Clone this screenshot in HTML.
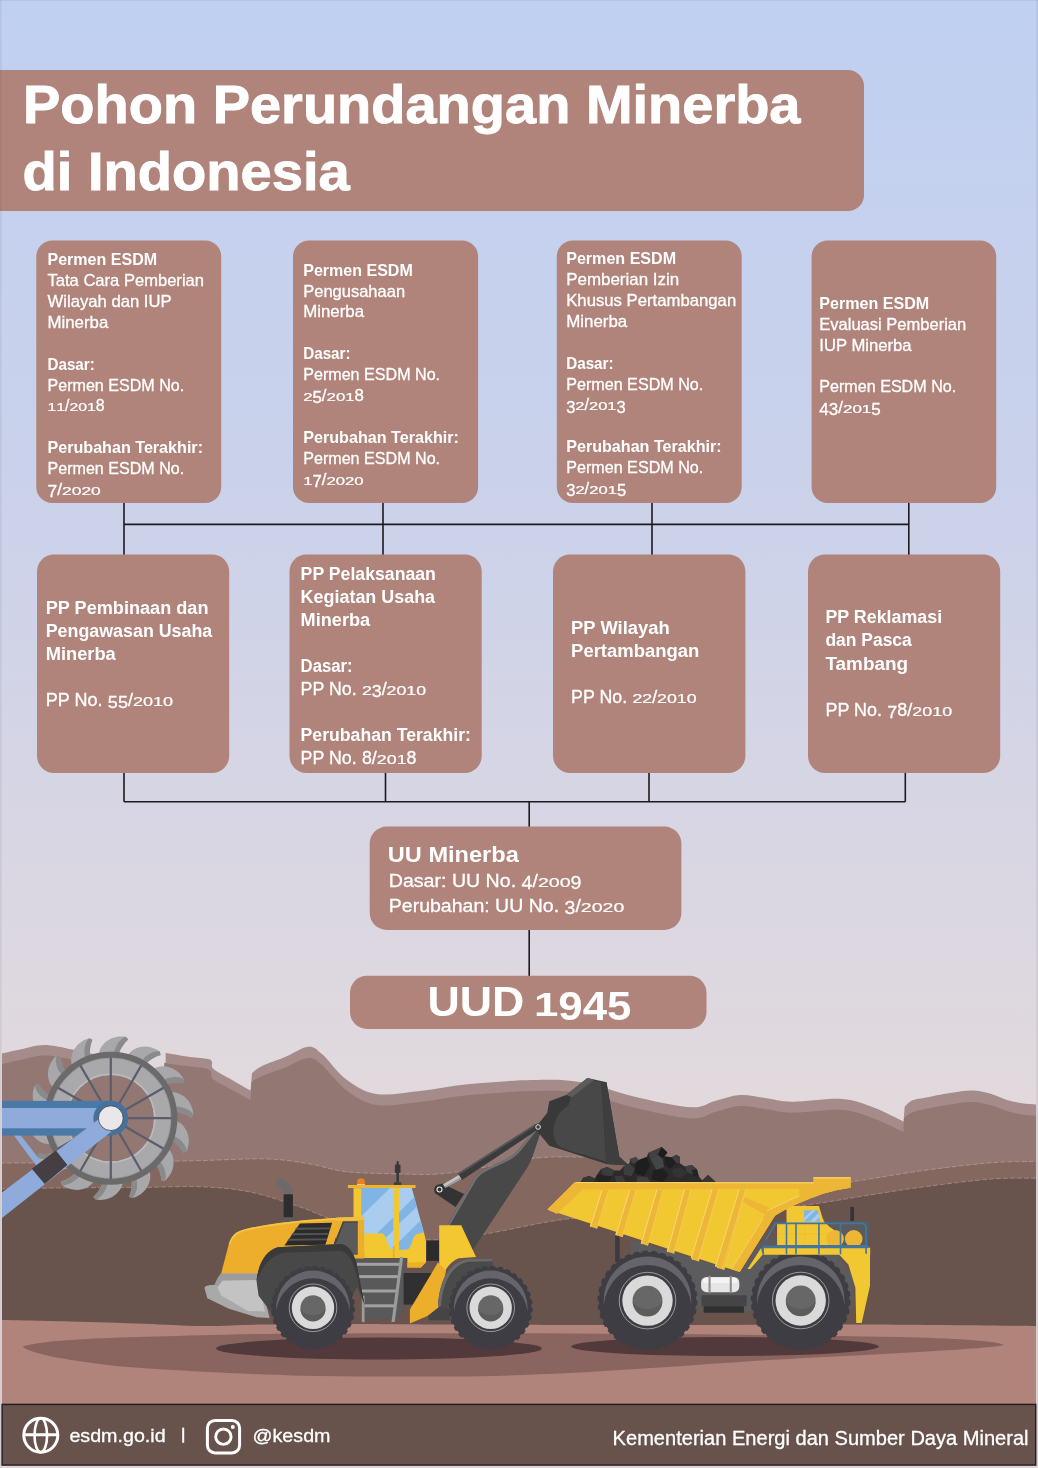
<!DOCTYPE html>
<html><head><meta charset="utf-8"><title>Pohon Perundangan Minerba di Indonesia</title>
<style>html,body{margin:0;padding:0;background:#c0d0f1;}body{width:1038px;height:1468px;overflow:hidden;font-family:"Liberation Sans",sans-serif;}svg text{font-family:"Liberation Sans",sans-serif;}</style>
</head><body>
<svg width="1038" height="1468" viewBox="0 0 1038 1468" font-family="Liberation Sans, sans-serif" style="display:block"><g><defs>
<linearGradient id="sky" x1="0" y1="0" x2="0" y2="1">
<stop offset="0" stop-color="#c0d0f1"/>
<stop offset="0.35" stop-color="#cbd2ea"/>
<stop offset="0.58" stop-color="#d9d6e3"/>
<stop offset="0.75" stop-color="#e1d9dc"/>
<stop offset="1" stop-color="#e1d9dc"/>
</linearGradient>
<filter id="gray" filterUnits="userSpaceOnUse" x="0" y="0" width="1038" height="1468"><feOffset dx="0" dy="0"/></filter>
</defs>
<rect x="0" y="0" width="1038" height="1468" fill="url(#sky)"/>
<clipPath id="sc"><rect x="2" y="1000" width="1034" height="410"/></clipPath><g id="scene" clip-path="url(#sc)">
<path d="M0 1300 L0.0 1054.0 C3.3 1053.2 12.7 1051.0 20.0 1049.5 C27.3 1048.0 35.3 1045.0 44.0 1045.0 C52.7 1045.0 61.0 1047.3 72.0 1049.5 C83.0 1051.7 98.7 1055.2 110.0 1058.0 C121.3 1060.8 130.8 1063.7 140.0 1066.0 C149.2 1068.3 161.2 1071.0 165.5 1072.0 L165.7 1053.1 C169.8 1053.8 182.9 1056.0 190.0 1057.0 C197.1 1058.0 204.3 1058.2 208.0 1059.0 C211.7 1059.8 211.1 1060.3 212.0 1062.0 C212.9 1063.7 210.2 1066.0 213.5 1069.0 C216.8 1072.0 225.8 1076.4 232.0 1080.0 C238.2 1083.6 247.4 1088.8 250.5 1090.5 L252.0 1073.0 C253.7 1071.8 256.5 1068.7 262.0 1066.0 C267.5 1063.3 277.3 1060.2 285.0 1057.0 C292.7 1053.8 301.8 1047.2 308.0 1046.7 C314.2 1046.2 315.7 1048.6 322.0 1054.0 C328.3 1059.4 337.0 1072.6 346.0 1079.3 C355.0 1086.0 363.7 1092.0 376.0 1094.0 C388.3 1096.0 404.3 1092.7 420.0 1091.0 C435.7 1089.3 451.3 1085.8 470.0 1084.0 C488.7 1082.2 513.7 1080.3 532.0 1080.0 C550.3 1079.7 562.0 1079.0 580.0 1082.0 C598.0 1085.0 621.3 1093.8 640.0 1098.0 C658.7 1102.2 679.5 1106.8 692.0 1107.3 C704.5 1107.8 707.0 1103.0 715.0 1101.0 C723.0 1099.0 731.7 1095.5 740.0 1095.0 C748.3 1094.5 756.3 1096.9 765.0 1098.0 C773.7 1099.1 779.2 1101.5 792.0 1101.7 C804.8 1101.9 828.2 1098.0 842.0 1099.0 C855.8 1100.0 864.8 1104.2 875.0 1108.0 C885.2 1111.8 898.8 1119.4 903.5 1121.7 L904.7 1106.7 C905.9 1105.7 908.6 1102.0 912.0 1100.5 C915.4 1099.0 918.7 1099.0 925.0 1097.7 C931.3 1096.5 942.2 1094.2 950.0 1093.0 C957.8 1091.8 965.3 1090.3 972.0 1090.4 C978.7 1090.5 984.2 1091.9 990.0 1093.5 C995.8 1095.1 1001.7 1098.4 1007.0 1100.0 C1012.3 1101.6 1016.8 1102.5 1022.0 1103.2 C1027.2 1104.0 1035.3 1104.3 1038.0 1104.5 L1038 1300 Z" fill="#a58b89"/>
<path d="M0 1300 L0.0 1064.5 C3.3 1063.8 12.7 1061.5 20.0 1060.0 C27.3 1058.5 35.3 1055.6 44.0 1055.5 C52.7 1055.4 61.0 1057.4 72.0 1059.5 C83.0 1061.6 98.7 1065.2 110.0 1068.0 C121.3 1070.8 131.0 1073.7 140.0 1076.0 C149.0 1078.3 160.0 1081.0 164.0 1082.0 L164.2 1063.0 C168.5 1063.6 183.0 1065.6 190.0 1066.5 C197.0 1067.4 202.5 1067.6 206.0 1068.5 C209.5 1069.4 209.8 1070.2 211.0 1072.0 C212.2 1073.8 209.5 1076.0 213.0 1079.0 C216.5 1082.0 225.8 1086.5 232.0 1090.0 C238.2 1093.5 247.4 1098.3 250.5 1100.0 L251.5 1082.0 C253.2 1081.0 256.4 1078.4 262.0 1076.0 C267.6 1073.6 277.3 1070.5 285.0 1067.5 C292.7 1064.5 301.8 1058.4 308.0 1058.0 C314.2 1057.6 315.7 1059.7 322.0 1065.0 C328.3 1070.3 337.0 1083.3 346.0 1090.0 C355.0 1096.7 363.7 1103.0 376.0 1105.0 C388.3 1107.0 404.3 1103.7 420.0 1102.0 C435.7 1100.3 451.3 1096.8 470.0 1095.0 C488.7 1093.2 513.7 1091.3 532.0 1091.0 C550.3 1090.7 562.0 1090.0 580.0 1093.0 C598.0 1096.0 621.3 1104.8 640.0 1109.0 C658.7 1113.2 679.5 1118.0 692.0 1118.5 C704.5 1119.0 707.0 1114.1 715.0 1112.0 C723.0 1109.9 731.7 1106.5 740.0 1106.0 C748.3 1105.5 756.3 1107.9 765.0 1109.0 C773.7 1110.1 779.2 1112.5 792.0 1112.7 C804.8 1112.9 828.2 1109.0 842.0 1110.0 C855.8 1111.0 864.8 1115.3 875.0 1119.0 C885.2 1122.7 898.8 1129.8 903.5 1132.0 L904.0 1118.0 C905.3 1117.1 908.5 1114.0 912.0 1112.5 C915.5 1111.0 918.7 1110.3 925.0 1109.0 C931.3 1107.7 942.2 1105.7 950.0 1104.5 C957.8 1103.3 965.3 1101.9 972.0 1102.0 C978.7 1102.1 984.2 1103.5 990.0 1105.0 C995.8 1106.5 1001.7 1109.4 1007.0 1111.0 C1012.3 1112.6 1016.8 1113.7 1022.0 1114.5 C1027.2 1115.3 1035.3 1115.8 1038.0 1116.0 L1038 1300 Z" fill="#937772"/>
<path d="M0 1400 L0.0 1163.0 C10.0 1163.0 36.7 1163.2 60.0 1163.0 C83.3 1162.8 116.7 1162.4 140.0 1162.0 C163.3 1161.6 178.8 1161.1 200.0 1160.6 C221.2 1160.1 248.7 1158.4 267.0 1159.0 C285.3 1159.6 296.8 1161.9 310.0 1164.0 C323.2 1166.1 331.0 1170.0 346.0 1171.7 C361.0 1173.4 384.5 1173.6 400.0 1174.0 C415.5 1174.4 425.7 1175.0 439.0 1174.0 C452.3 1173.0 464.5 1170.6 480.0 1168.0 C495.5 1165.4 515.5 1160.3 532.0 1158.5 C548.5 1156.7 564.3 1156.6 579.0 1157.0 C593.7 1157.4 603.2 1157.8 620.0 1161.0 C636.8 1164.2 660.0 1171.7 680.0 1176.0 C700.0 1180.3 720.0 1185.0 740.0 1187.0 C760.0 1189.0 781.3 1188.9 800.0 1188.0 C818.7 1187.1 832.0 1184.5 852.0 1181.7 C872.0 1178.9 896.7 1174.2 920.0 1171.0 C943.3 1167.8 972.3 1164.3 992.0 1162.7 C1011.7 1161.1 1030.3 1161.7 1038.0 1161.5 L1038 1400 Z" fill="#84675f"/>
<path d="M0.0 1163.0 C10.0 1163.0 36.7 1163.2 60.0 1163.0 C83.3 1162.8 116.7 1162.4 140.0 1162.0 C163.3 1161.6 178.8 1161.1 200.0 1160.6 C221.2 1160.1 248.7 1158.4 267.0 1159.0 C285.3 1159.6 296.8 1161.9 310.0 1164.0 C323.2 1166.1 331.0 1170.0 346.0 1171.7 C361.0 1173.4 384.5 1173.6 400.0 1174.0 C415.5 1174.4 425.7 1175.0 439.0 1174.0 C452.3 1173.0 464.5 1170.6 480.0 1168.0 C495.5 1165.4 515.5 1160.3 532.0 1158.5 C548.5 1156.7 564.3 1156.6 579.0 1157.0 C593.7 1157.4 603.2 1157.8 620.0 1161.0 C636.8 1164.2 660.0 1171.7 680.0 1176.0 C700.0 1180.3 720.0 1185.0 740.0 1187.0 C760.0 1189.0 781.3 1188.9 800.0 1188.0 C818.7 1187.1 832.0 1184.5 852.0 1181.7 C872.0 1178.9 896.7 1174.2 920.0 1171.0 C943.3 1167.8 972.3 1164.3 992.0 1162.7 C1011.7 1161.1 1030.3 1161.7 1038.0 1161.5" fill="none" stroke="#e9dcd8" stroke-width="0.75" stroke-opacity="0.42" stroke-dasharray="5 2"/>
<path d="M0 1400 L0.0 1189.0 C10.0 1188.8 36.7 1188.2 60.0 1188.0 C83.3 1187.8 116.7 1187.7 140.0 1187.5 C163.3 1187.3 181.7 1186.0 200.0 1186.7 C218.3 1187.5 233.3 1188.6 250.0 1192.0 C266.7 1195.4 286.2 1202.3 300.0 1207.0 C313.8 1211.7 319.7 1215.2 333.0 1220.0 C346.3 1224.8 363.8 1232.7 380.0 1236.0 C396.2 1239.3 412.7 1240.3 430.0 1240.0 C447.3 1239.7 464.1 1237.2 483.6 1234.2 C503.1 1231.2 531.1 1224.7 547.0 1222.0 C562.9 1219.3 563.5 1219.3 579.0 1218.0 C594.5 1216.7 619.8 1214.7 640.0 1214.0 C660.2 1213.3 680.0 1214.5 700.0 1214.0 C720.0 1213.5 740.2 1212.8 760.0 1211.0 C779.8 1209.2 800.4 1206.0 818.7 1203.3 C837.0 1200.6 852.3 1197.8 870.0 1195.0 C887.7 1192.2 904.7 1189.4 925.0 1186.7 C945.3 1184.0 973.2 1180.4 992.0 1179.0 C1010.8 1177.6 1030.3 1178.4 1038.0 1178.3 L1038 1400 Z" fill="#69534d"/>
<path d="M0.0 1189.0 C10.0 1188.8 36.7 1188.2 60.0 1188.0 C83.3 1187.8 116.7 1187.7 140.0 1187.5 C163.3 1187.3 181.7 1186.0 200.0 1186.7 C218.3 1187.5 233.3 1188.6 250.0 1192.0 C266.7 1195.4 286.2 1202.3 300.0 1207.0 C313.8 1211.7 319.7 1215.2 333.0 1220.0 C346.3 1224.8 363.8 1232.7 380.0 1236.0 C396.2 1239.3 412.7 1240.3 430.0 1240.0 C447.3 1239.7 464.1 1237.2 483.6 1234.2 C503.1 1231.2 531.1 1224.7 547.0 1222.0 C562.9 1219.3 563.5 1219.3 579.0 1218.0 C594.5 1216.7 619.8 1214.7 640.0 1214.0 C660.2 1213.3 680.0 1214.5 700.0 1214.0 C720.0 1213.5 740.2 1212.8 760.0 1211.0 C779.8 1209.2 800.4 1206.0 818.7 1203.3 C837.0 1200.6 852.3 1197.8 870.0 1195.0 C887.7 1192.2 904.7 1189.4 925.0 1186.7 C945.3 1184.0 973.2 1180.4 992.0 1179.0 C1010.8 1177.6 1030.3 1178.4 1038.0 1178.3" fill="none" stroke="#e9dcd8" stroke-width="0.75" stroke-opacity="0.42" stroke-dasharray="5 2"/>
<path d="M0 1410 L0.0 1320.0 C11.7 1320.2 46.0 1320.9 70.0 1321.5 C94.0 1322.1 122.0 1323.0 144.0 1323.7 C166.0 1324.5 182.7 1325.8 202.0 1326.0 C221.3 1326.2 238.7 1324.9 260.0 1324.6 C281.3 1324.3 306.7 1324.1 330.0 1324.0 C353.3 1323.9 361.7 1324.0 400.0 1324.2 C438.3 1324.4 510.0 1324.9 560.0 1325.0 C610.0 1325.1 648.5 1325.1 700.0 1325.0 C751.5 1324.9 812.7 1324.3 869.0 1324.5 C925.3 1324.7 1009.8 1325.8 1038.0 1326.0 L1038 1410 Z" fill="#b0847a"/>
<path d="M23 1346.2 C40 1342 60 1340.5 87 1339 C130 1337 173 1336 260 1334 C400 1332.5 700 1333 919 1337.5 C970 1339 1000 1342 1004 1345 C990 1349 880 1354 769 1360 C650 1368 560 1376 450 1376.5 C400 1376.8 350 1376.5 300 1375.7 C260 1374.5 230 1373 202 1371.7 C170 1370 140 1368 115.6 1366 C90 1363 70 1360 58 1357.8 C35 1353 23 1349 23 1346.2Z" fill="#8a655f"/>
<ellipse cx="379" cy="1348.5" rx="163" ry="11" fill="#52393c"/>
<ellipse cx="725" cy="1346.5" rx="154" ry="9.5" fill="#52393c"/>
<g id="wheelex">
<path d="M13.5 1135 L20.5 1135 L41.5 1162 L36.5 1166 Z" fill="#8fabdc"/>
<path d="M98.9 1053.8 C99.9 1045.0 110.1 1034.2 125.9 1036.8 L128.2 1039.5 C124.5 1042.9 120.8 1047.9 119.0 1053.2 Z" fill="#a8a8ab"/>
<path d="M114.1 1052.8 C114.9 1047.3 119.1 1039.1 125.9 1036.8 L128.2 1039.5 C124.5 1042.9 120.8 1047.9 119.0 1053.2 Z" fill="#8a8a8d"/>
<path d="M128.0 1055.0 C132.7 1047.5 146.6 1042.2 159.7 1051.4 L160.7 1054.9 C155.8 1056.3 150.3 1059.2 146.4 1063.2 Z" fill="#a8a8ab"/>
<path d="M142.2 1060.7 C145.2 1056.1 152.6 1050.6 159.7 1051.4 L160.7 1054.9 C155.8 1056.3 150.3 1059.2 146.4 1063.2 Z" fill="#8a8a8d"/>
<path d="M153.7 1068.7 C161.2 1064.0 176.0 1065.3 183.9 1079.2 L183.2 1082.8 C178.2 1082.0 172.0 1082.2 166.7 1084.1 Z" fill="#a8a8ab"/>
<path d="M164.0 1080.0 C168.8 1077.2 177.8 1075.4 183.9 1079.2 L183.2 1082.8 C178.2 1082.0 172.0 1082.2 166.7 1084.1 Z" fill="#8a8a8d"/>
<path d="M170.9 1092.2 C179.7 1091.3 192.5 1098.8 193.5 1114.8 L191.4 1117.7 C187.2 1114.8 181.6 1112.3 176.0 1111.7 Z" fill="#a8a8ab"/>
<path d="M175.3 1106.9 C180.8 1106.4 189.7 1108.7 193.5 1114.8 L191.4 1117.7 C187.2 1114.8 181.6 1112.3 176.0 1111.7 Z" fill="#8a8a8d"/>
<path d="M176.2 1120.9 C184.6 1123.8 192.9 1136.2 186.8 1151.0 L183.6 1152.7 C181.1 1148.3 177.1 1143.6 172.3 1140.7 Z" fill="#a8a8ab"/>
<path d="M173.8 1136.0 C179.0 1138.0 186.0 1143.9 186.8 1151.0 L183.6 1152.7 C181.1 1148.3 177.1 1143.6 172.3 1140.7 Z" fill="#8a8a8d"/>
<path d="M168.6 1149.0 C174.8 1155.3 176.9 1170.0 165.0 1180.8 L161.4 1180.9 C161.1 1175.8 159.5 1169.8 156.5 1165.1 Z" fill="#a8a8ab"/>
<path d="M159.9 1161.6 C163.7 1165.6 167.4 1174.0 165.0 1180.8 L161.4 1180.9 C161.1 1175.8 159.5 1169.8 156.5 1165.1 Z" fill="#8a8a8d"/>
<path d="M149.5 1171.0 C152.4 1179.4 147.9 1193.6 132.5 1198.1 L129.2 1196.7 C131.1 1191.9 132.3 1185.9 131.6 1180.3 Z" fill="#a8a8ab"/>
<path d="M136.2 1178.6 C137.9 1183.8 137.6 1193.0 132.5 1198.1 L129.2 1196.7 C131.1 1191.9 132.3 1185.9 131.6 1180.3 Z" fill="#8a8a8d"/>
<path d="M122.7 1182.6 C121.7 1191.4 111.5 1202.2 95.7 1199.6 L93.4 1196.9 C97.1 1193.5 100.8 1188.5 102.6 1183.2 Z" fill="#a8a8ab"/>
<path d="M107.5 1183.6 C106.7 1189.1 102.5 1197.3 95.7 1199.6 L93.4 1196.9 C97.1 1193.5 100.8 1188.5 102.6 1183.2 Z" fill="#8a8a8d"/>
<path d="M93.6 1181.4 C88.9 1188.9 75.0 1194.2 61.9 1185.0 L60.9 1181.5 C65.8 1180.1 71.3 1177.2 75.2 1173.2 Z" fill="#a8a8ab"/>
<path d="M79.4 1175.7 C76.4 1180.3 69.0 1185.8 61.9 1185.0 L60.9 1181.5 C65.8 1180.1 71.3 1177.2 75.2 1173.2 Z" fill="#8a8a8d"/>
<path d="M67.9 1167.7 C60.4 1172.4 45.6 1171.1 37.7 1157.2 L38.4 1153.6 C43.4 1154.4 49.6 1154.2 54.9 1152.3 Z" fill="#a8a8ab"/>
<path d="M57.6 1156.4 C52.8 1159.2 43.8 1161.0 37.7 1157.2 L38.4 1153.6 C43.4 1154.4 49.6 1154.2 54.9 1152.3 Z" fill="#8a8a8d"/>
<path d="M50.7 1144.2 C41.9 1145.1 29.1 1137.6 28.1 1121.6 L30.2 1118.7 C34.4 1121.6 40.0 1124.1 45.6 1124.7 Z" fill="#a8a8ab"/>
<path d="M46.3 1129.5 C40.8 1130.0 31.9 1127.7 28.1 1121.6 L30.2 1118.7 C34.4 1121.6 40.0 1124.1 45.6 1124.7 Z" fill="#8a8a8d"/>
<path d="M45.4 1115.5 C37.0 1112.6 28.7 1100.2 34.8 1085.4 L38.0 1083.7 C40.5 1088.1 44.5 1092.8 49.3 1095.7 Z" fill="#a8a8ab"/>
<path d="M47.8 1100.4 C42.6 1098.4 35.6 1092.5 34.8 1085.4 L38.0 1083.7 C40.5 1088.1 44.5 1092.8 49.3 1095.7 Z" fill="#8a8a8d"/>
<path d="M53.0 1087.4 C46.8 1081.1 44.7 1066.4 56.6 1055.6 L60.2 1055.5 C60.5 1060.6 62.1 1066.6 65.1 1071.3 Z" fill="#a8a8ab"/>
<path d="M61.7 1074.8 C57.9 1070.8 54.2 1062.4 56.6 1055.6 L60.2 1055.5 C60.5 1060.6 62.1 1066.6 65.1 1071.3 Z" fill="#8a8a8d"/>
<path d="M72.1 1065.4 C69.2 1057.0 73.7 1042.8 89.1 1038.3 L92.4 1039.7 C90.5 1044.5 89.3 1050.5 90.0 1056.1 Z" fill="#a8a8ab"/>
<path d="M85.4 1057.8 C83.7 1052.6 84.0 1043.4 89.1 1038.3 L92.4 1039.7 C90.5 1044.5 89.3 1050.5 90.0 1056.1 Z" fill="#8a8a8d"/>
<circle cx="110.8" cy="1118.2" r="52" fill="none" stroke="#a9a9ac" stroke-width="17.6"/>
<circle cx="110.8" cy="1118.2" r="44" fill="none" stroke="#bbbbbe" stroke-width="1.5"/>
<circle cx="110.8" cy="1118.2" r="60" fill="none" stroke="#9b9b9e" stroke-width="1.2"/>
<line x1="126.8" y1="1118.2" x2="171.8" y2="1118.2" stroke="#5b5d6b" stroke-width="2.2"/>
<line x1="124.7" y1="1126.2" x2="163.6" y2="1148.7" stroke="#5b5d6b" stroke-width="2.2"/>
<line x1="118.8" y1="1132.1" x2="141.3" y2="1171.0" stroke="#5b5d6b" stroke-width="2.2"/>
<line x1="110.8" y1="1134.2" x2="110.8" y2="1179.2" stroke="#5b5d6b" stroke-width="2.2"/>
<line x1="102.8" y1="1132.1" x2="80.3" y2="1171.0" stroke="#5b5d6b" stroke-width="2.2"/>
<line x1="96.9" y1="1126.2" x2="58.0" y2="1148.7" stroke="#5b5d6b" stroke-width="2.2"/>
<line x1="94.8" y1="1118.2" x2="49.8" y2="1118.2" stroke="#5b5d6b" stroke-width="2.2"/>
<line x1="96.9" y1="1110.2" x2="58.0" y2="1087.7" stroke="#5b5d6b" stroke-width="2.2"/>
<line x1="102.8" y1="1104.3" x2="80.3" y2="1065.4" stroke="#5b5d6b" stroke-width="2.2"/>
<line x1="110.8" y1="1102.2" x2="110.8" y2="1057.2" stroke="#5b5d6b" stroke-width="2.2"/>
<line x1="118.8" y1="1104.3" x2="141.3" y2="1065.4" stroke="#5b5d6b" stroke-width="2.2"/>
<line x1="124.7" y1="1110.2" x2="163.6" y2="1087.7" stroke="#5b5d6b" stroke-width="2.2"/>
<circle cx="110.8" cy="1118.2" r="63.5" fill="none" stroke="#6a6a6b" stroke-width="6"/>
<rect x="0" y="1100.9" width="110.8" height="34.7" fill="#4a79a7"/>
<rect x="0" y="1108" width="97" height="20.3" fill="#8fabdc"/>
<circle cx="110.8" cy="1118.2" r="17.4" fill="#44719e"/>
<path d="M99.5 1118.6 L0 1194 L0 1219.5 L111.5 1131.5 Z" fill="#8fabdc"/>
<path d="M31.8 1168.7 L55.9 1150.4 L67.4 1164.9 L44.7 1184.1 Z" fill="#453e42"/>
<circle cx="110.8" cy="1118.2" r="12.4" fill="#e9e7e9" stroke="#2c2c34" stroke-width="0.7"/>
</g>
<g id="loader">
<path d="M435.3 1186.7 L442.0 1183.4 L464.1 1194.0 L455.6 1207.1 L434.8 1193.1 Z" fill="#333335"/>
<path d="M536.2 1127.4 L520.0 1148.0 Q513.7 1155.8 504.8 1160.0 L486.1 1168.5 Q477.7 1172.8 473.8 1179.1 L446.5 1226.4 L473.0 1249.7 L527.0 1168.1 Q530.6 1162.2 532.8 1155.8 L540.4 1133.1 Z" fill="#484848"/>
<path d="M536.2 1127.4 L520.0 1148.0 Q513.7 1155.8 504.8 1160.0 L486.1 1168.5 Q477.7 1172.8 473.8 1179.1 L446.5 1226.4 L449.0 1226.4 L476.0 1180.0 Q479.3 1174.5 487.4 1170.4 L506.1 1161.7 Q515.4 1157.5 521.9 1149.2 L538.1 1128.7 Z" fill="#727274"/>
<path d="M457.7 1173.6 L535.1 1124.2 L538.7 1129.1 L462.0 1180.0 Z" fill="#3b3b3d"/>
<path d="M457.7 1173.6 L535.1 1124.2 L535.9 1125.5 L458.6 1175.1 Z" fill="#58585a"/>
<path d="M442.9 1184.6 L458.8 1175.1 L461.3 1179.1 L445.4 1187.8 Z" fill="#c4c4c6"/>
<path d="M444.2 1186.7 L460.3 1177.2 L461.3 1179.1 L445.4 1187.8 Z" fill="#9a9a9c"/>
<path d="M587.4 1078.0 L606.5 1082.3 L619.2 1156.4 L628.8 1165.6 L606.5 1163.9 L549.3 1145.8 L538.7 1133.1 L535.5 1127.4 L547.2 1113.0 L549.3 1101.3 L566.2 1095.0 Z" fill="#393939"/>
<path d="M570.9 1096.5 L589.6 1079.5 L601.4 1082.0 L606.1 1161.7 C581.1 1153.3 559.9 1149.0 557.8 1144.8 C549.3 1132.1 553.5 1115.1 568.4 1105.6 Z" fill="#484848"/>
<path d="M601.4 1082.0 L606.5 1082.3 L619.2 1156.4 L628.8 1165.6 L606.5 1163.9 Z" fill="#3e3e3e"/>
<path d="M566.2 1095.0 L587.4 1078.0 L594.2 1079.7 L571.8 1097.3 Z" fill="#5c5c5c"/>
<circle cx="538.1" cy="1127.0" r="3.6" fill="#3a3a3a"/>
<circle cx="538.1" cy="1127.0" r="2.3" fill="none" stroke="#e6e6e6" stroke-width="1"/>
<circle cx="439.5" cy="1189.5" r="5.3" fill="#333335"/>
<circle cx="439.5" cy="1189.5" r="2.5" fill="none" stroke="#e6e6e6" stroke-width="1.1"/>
<path d="M276.6 1178.7 C286.1 1178.7 292.9 1185.4 292.9 1195.0 L283.6 1195.0 C283.6 1189.7 280.8 1186.5 276.6 1186.5 Z" fill="#6b6b6b"/>
<rect x="283.6" y="1194.3" width="9.3" height="23.3" fill="#2d2d2d" rx="0"/>
<path d="M282.3 1217.2 L293.8 1217.2 L295.0 1221.9 L280.8 1221.9 Z" fill="#5a5a5a"/>
<path d="M220.9 1274.5 L228.9 1243.7 C232.1 1234.2 236.3 1231.6 245.9 1228.9 C279.8 1221.5 322.2 1218.3 363.9 1216.6 L363.9 1259.6 L258.6 1274.5 Z" fill="#ecae2b"/>
<path d="M228.9 1243.7 C232.1 1234.2 236.3 1231.6 245.9 1228.9 C279.8 1221.5 322.2 1218.3 363.9 1216.6 L363.9 1218.3 C322.2 1220.0 279.8 1223.2 246.9 1230.6 C237.4 1233.3 233.2 1235.9 230.2 1244.4 Z" fill="#f4c545"/>
<path d="M299.9 1223.6 L332.1 1222.7 L325.4 1244.8 L284.4 1245.6 Z" fill="#2b2b2b"/>
<path d="M296.1 1227.8 L330.7 1227.4 L330.2 1229.3 L295.0 1229.7 Z" fill="#555557"/>
<path d="M292.3 1233.3 L329.0 1232.9 L328.5 1234.8 L291.2 1235.2 Z" fill="#555557"/>
<path d="M288.5 1238.8 L327.3 1238.4 L326.8 1240.3 L287.4 1240.8 Z" fill="#555557"/>
<path d="M341.2 1221.9 L357.8 1221.3 L357.8 1254.7 L352.3 1254.7 L344.4 1245.2 L333.8 1243.9 Z" fill="#5b5b5b"/>
<path d="M333.8 1243.9 L341.2 1221.9 L343.4 1221.9 L336.6 1243.9 Z" fill="#3a3a3a"/>
<path d="M361.2 1188.1 L411.8 1188.1 L424.0 1233.1 L415.1 1251.9 L361.2 1251.9 Z" fill="#a8cdee"/>
<path d="M361.2 1188.1 L390.1 1188.1 L361.2 1216.2 Z" fill="#80b4e4"/>
<path d="M393.5 1217.2 L393.5 1230.2 L385.3 1237.9 L382.4 1233.6 L376.6 1233.6 Z" fill="#80b4e4"/>
<path d="M399.0 1212.4 L414.2 1197.0 L416.8 1207.1 L399.0 1223.5 Z" fill="#80b4e4"/>
<path d="M399.0 1241.8 L420.0 1221.1 L424.0 1233.1 L415.1 1251.9 L399.0 1251.9 Z" fill="#80b4e4"/>
<path d="M347.9 1184.9 L415.6 1184.9 L415.6 1188.1 L347.9 1188.1 Z" fill="#edb52e"/>
<path d="M353.5 1188.1 L361.2 1188.1 L361.2 1218.2 L353.5 1218.2 Z" fill="#f2c732"/>
<path d="M393.5 1188.1 L399.0 1188.1 L399.0 1250.9 L393.5 1250.9 Z" fill="#f2c732"/>
<path d="M364.1 1233.6 L382.4 1233.6 C385.3 1234.5 386.2 1239.4 388.2 1244.2 C389.6 1248.0 391.1 1249.5 393.5 1250.0 L399.0 1250.0 L406.5 1249.6 C409.8 1249.0 410.8 1246.1 412.3 1241.3 C413.7 1236.5 415.1 1234.5 418.0 1233.8 L424.0 1232.6 L426.0 1241.3 L426.0 1262.3 L420.9 1267.5 L407.4 1267.5 L407.4 1257.9 L364.1 1257.9 Z" fill="#f2c732"/>
<path d="M407.4 1262.7 L426.0 1262.0 L420.9 1267.5 L407.4 1267.5 Z" fill="#ecae2b"/>
<path d="M392.8 1246.1 L394.7 1246.1 L394.7 1257.9 L392.8 1257.9 Z" fill="#ecae2b"/>
<path d="M336.1 1217.7 L364.1 1217.0 L364.1 1257.9 L336.1 1257.9 Z" fill="#ecae2b"/>
<path d="M336.1 1217.7 L364.1 1217.0 L364.1 1220.1 L336.1 1220.8 Z" fill="#f2c040"/>
<path d="M342.9 1221.5 L357.8 1221.5 L357.8 1254.8 L352.3 1254.8 L344.3 1244.7 L334.2 1243.4 Z" fill="#5a5a5c"/>
<path d="M342.9 1221.5 L357.8 1221.5 L357.8 1222.8 L343.9 1222.8 L336.1 1243.7 L334.2 1243.4 Z" fill="#444446"/>
<path d="M357.1 1184.5 L357.1 1181.6 C357.1 1177.2 364.9 1177.2 364.9 1181.6 L364.9 1184.5 Z" fill="#e8821c"/>
<path d="M357.0 1184.0 L365.0 1184.0 L365.0 1184.9 L357.0 1184.9 Z" fill="#e9d2b0"/>
<path d="M396.8 1161.1 L398.5 1161.1 L399.0 1164.7 L399.0 1182.5 L396.4 1182.5 L396.4 1164.7 Z" fill="#38383a"/>
<path d="M394.9 1164.7 L400.5 1164.7 L400.5 1172.9 L394.9 1172.9 Z" fill="#38383a"/>
<path d="M393.9 1182.3 L401.3 1182.3 L401.3 1184.9 L393.9 1184.9 Z" fill="#3d3d3f"/>
<path d="M354.4 1258.6 L406.1 1258.6 L406.1 1306.2 L397.2 1319.0 L361.2 1319.0 L361.2 1295.7 Z" fill="#595959"/>
<rect x="356.9" y="1262.8" width="43.6" height="3.0" fill="#a2a2a2" rx="0"/>
<rect x="359.1" y="1275.1" width="39.4" height="3.0" fill="#a2a2a2" rx="0"/>
<rect x="361.7" y="1289.5" width="34.5" height="3.0" fill="#a2a2a2" rx="0"/>
<rect x="364.4" y="1304.3" width="29.5" height="3.0" fill="#a2a2a2" rx="0"/>
<path d="M400.0 1257.1 L403.2 1257.1 L394.7 1322.1 L391.5 1322.1 Z" fill="#9b9b9b"/>
<rect x="361.8" y="1295.7" width="2.8" height="26.5" fill="#9b9b9b" rx="0"/>
<rect x="403.6" y="1273.0" width="30.7" height="31.6" fill="#303032" rx="0"/>
<rect x="426.5" y="1240.5" width="13.1" height="20.3" fill="#2b2b2b" rx="0"/>
<path d="M439.2 1225.3 L461.2 1225.3 L476.1 1257.1 L458.7 1258.3 C450.2 1261.7 443.9 1270.2 441.3 1280.8 L439.2 1280.8 Z" fill="#f2c732"/>
<path d="M409.9 1309.6 L437.9 1262.6 L446.0 1270.2 L439.6 1306.2 L428.0 1315.8 L409.9 1323.6 Z" fill="#ecae2b"/>
<path d="M428.0 1315.8 L440.7 1306.2 L450.2 1308.4 L450.2 1320.2 L429.0 1320.2 Z" fill="#454545"/>
<path d="M437.9 1306.2 C439.6 1278.7 450.2 1261.7 467.2 1259.2 L492.6 1258.8 L492.6 1270.2 L446.0 1308.4 Z" fill="#4a4a4a"/>
<path d="M437.9 1306.2 C439.6 1278.7 450.2 1261.7 467.2 1259.2 L492.6 1258.8 L492.6 1261.3 L468.4 1261.7 C453.4 1264.3 442.8 1279.8 440.9 1306.2 Z" fill="#6a6a6c"/>
<path d="M220.9 1273.6 L258.6 1273.6 L269.6 1317.9 L256.9 1317.3 L228.9 1308.8 L207.3 1298.2 L204.5 1288.2 C204.5 1285.5 209.8 1285.1 214.5 1285.1 L217.9 1277.8 Z" fill="#a9a9a9"/>
<path d="M220.9 1273.6 L258.6 1273.6 L259.4 1279.8 L222.6 1280.8 L220.0 1286.7 L214.5 1285.1 L217.9 1277.8 Z" fill="#9c9c9c"/>
<path d="M222.6 1280.8 L258.6 1280.0 L264.9 1311.5 L248.0 1310.9 L221.5 1295.7 L217.3 1287.2 Z" fill="#c3c3c3"/>
<path d="M256.5 1280.8 C258.6 1261.7 267.1 1250.1 277.7 1247.3 L341.2 1243.9 C347.6 1244.8 352.9 1251.1 356.1 1261.7 L364.6 1305.0 L357.1 1287.2 L343.4 1312.6 L271.3 1312.6 L258.6 1295.7 Z" fill="#484848"/>
<path d="M256.5 1280.8 C258.6 1261.7 267.1 1250.1 277.7 1247.3 L341.2 1243.9 C347.6 1244.8 352.9 1251.1 356.1 1261.7 L364.6 1305.0 L359.5 1289.3 C356.1 1268.1 351.4 1254.5 341.7 1250.7 L284.0 1252.8 C269.6 1255.8 261.6 1267.0 256.5 1280.8 Z" fill="#3a3a3a"/>
<path d="M355.0 1307.8 L354.8 1311.9 L353.2 1312.4 L352.8 1315.1 L354.2 1316.0 L353.2 1320.0 L351.6 1320.2 L350.7 1322.7 L351.8 1323.9 L350.0 1327.6 L348.4 1327.5 L347.0 1329.8 L347.9 1331.1 L345.5 1334.4 L343.9 1334.0 L342.1 1336.0 L342.7 1337.5 L339.6 1340.3 L338.2 1339.5 L336.0 1341.1 L336.3 1342.7 L332.8 1344.8 L331.5 1343.8 L329.1 1345.0 L329.1 1346.6 L325.2 1348.0 L324.1 1346.7 L321.5 1347.4 L321.2 1349.0 L317.1 1349.6 L316.3 1348.2 L313.6 1348.3 L313.0 1349.8 L308.9 1349.6 L308.4 1348.0 L305.7 1347.6 L304.8 1349.0 L300.8 1348.0 L300.6 1346.4 L298.1 1345.5 L296.9 1346.6 L293.2 1344.8 L293.3 1343.2 L291.0 1341.8 L289.7 1342.7 L286.4 1340.3 L286.8 1338.7 L284.8 1336.9 L283.3 1337.5 L280.5 1334.4 L281.3 1333.0 L279.7 1330.8 L278.1 1331.1 L276.0 1327.6 L277.0 1326.3 L275.8 1323.9 L274.2 1323.9 L272.8 1320.0 L274.1 1318.9 L273.4 1316.3 L271.8 1316.0 L271.2 1311.9 L272.6 1311.1 L272.5 1308.4 L271.0 1307.8 L271.2 1303.7 L272.8 1303.2 L273.2 1300.5 L271.8 1299.6 L272.8 1295.6 L274.4 1295.4 L275.3 1292.9 L274.2 1291.7 L276.0 1288.0 L277.6 1288.1 L279.0 1285.8 L278.1 1284.5 L280.5 1281.2 L282.1 1281.6 L283.9 1279.6 L283.3 1278.1 L286.4 1275.3 L287.8 1276.1 L290.0 1274.5 L289.7 1272.9 L293.2 1270.8 L294.5 1271.8 L296.9 1270.6 L296.9 1269.0 L300.8 1267.6 L301.9 1268.9 L304.5 1268.2 L304.8 1266.6 L308.9 1266.0 L309.7 1267.4 L312.4 1267.3 L313.0 1265.8 L317.1 1266.0 L317.6 1267.6 L320.3 1268.0 L321.2 1266.6 L325.2 1267.6 L325.4 1269.2 L327.9 1270.1 L329.1 1269.0 L332.8 1270.8 L332.7 1272.4 L335.0 1273.8 L336.3 1272.9 L339.6 1275.3 L339.2 1276.9 L341.2 1278.7 L342.7 1278.1 L345.5 1281.2 L344.7 1282.6 L346.3 1284.8 L347.9 1284.5 L350.0 1288.0 L349.0 1289.3 L350.2 1291.7 L351.8 1291.7 L353.2 1295.6 L351.9 1296.7 L352.6 1299.3 L354.2 1299.6 L354.8 1303.7 L353.4 1304.5 L353.5 1307.2Z" fill="#3e3d43"/>
<path d="M276.4 1311.2 A36.8 36.8 0 1 1 349.6 1311.2 A36.8 36.8 0 0 0 276.4 1311.2 Z" fill="#65646a"/>
<circle cx="313" cy="1307.8" r="23.8" fill="none" stroke="#d6d6d6" stroke-width="0.6"/>
<circle cx="313" cy="1307.8" r="21.2" fill="#dadada"/>
<circle cx="313" cy="1307.8" r="12.6" fill="#676767"/>
<path d="M300.4 1308.8 A12.6 12.6 0 0 0 325.6 1308.8 A14.5 12.6 0 0 1 300.4 1308.8Z" fill="#5c5c5c"/>
<path d="M532.7 1307.8 L532.5 1311.9 L530.9 1312.4 L530.5 1315.1 L531.9 1316.0 L530.9 1320.0 L529.3 1320.2 L528.4 1322.7 L529.5 1323.9 L527.7 1327.6 L526.1 1327.5 L524.7 1329.8 L525.6 1331.1 L523.2 1334.4 L521.6 1334.0 L519.8 1336.0 L520.4 1337.5 L517.3 1340.3 L515.9 1339.5 L513.7 1341.1 L514.0 1342.7 L510.5 1344.8 L509.2 1343.8 L506.8 1345.0 L506.8 1346.6 L502.9 1348.0 L501.8 1346.7 L499.2 1347.4 L498.9 1349.0 L494.8 1349.6 L494.0 1348.2 L491.3 1348.3 L490.7 1349.8 L486.6 1349.6 L486.1 1348.0 L483.4 1347.6 L482.5 1349.0 L478.5 1348.0 L478.3 1346.4 L475.8 1345.5 L474.6 1346.6 L470.9 1344.8 L471.0 1343.2 L468.7 1341.8 L467.4 1342.7 L464.1 1340.3 L464.5 1338.7 L462.5 1336.9 L461.0 1337.5 L458.2 1334.4 L459.0 1333.0 L457.4 1330.8 L455.8 1331.1 L453.7 1327.6 L454.7 1326.3 L453.5 1323.9 L451.9 1323.9 L450.5 1320.0 L451.8 1318.9 L451.1 1316.3 L449.5 1316.0 L448.9 1311.9 L450.3 1311.1 L450.2 1308.4 L448.7 1307.8 L448.9 1303.7 L450.5 1303.2 L450.9 1300.5 L449.5 1299.6 L450.5 1295.6 L452.1 1295.4 L453.0 1292.9 L451.9 1291.7 L453.7 1288.0 L455.3 1288.1 L456.7 1285.8 L455.8 1284.5 L458.2 1281.2 L459.8 1281.6 L461.6 1279.6 L461.0 1278.1 L464.1 1275.3 L465.5 1276.1 L467.7 1274.5 L467.4 1272.9 L470.9 1270.8 L472.2 1271.8 L474.6 1270.6 L474.6 1269.0 L478.5 1267.6 L479.6 1268.9 L482.2 1268.2 L482.5 1266.6 L486.6 1266.0 L487.4 1267.4 L490.1 1267.3 L490.7 1265.8 L494.8 1266.0 L495.3 1267.6 L498.0 1268.0 L498.9 1266.6 L502.9 1267.6 L503.1 1269.2 L505.6 1270.1 L506.8 1269.0 L510.5 1270.8 L510.4 1272.4 L512.7 1273.8 L514.0 1272.9 L517.3 1275.3 L516.9 1276.9 L518.9 1278.7 L520.4 1278.1 L523.2 1281.2 L522.4 1282.6 L524.0 1284.8 L525.6 1284.5 L527.7 1288.0 L526.7 1289.3 L527.9 1291.7 L529.5 1291.7 L530.9 1295.6 L529.6 1296.7 L530.3 1299.3 L531.9 1299.6 L532.5 1303.7 L531.1 1304.5 L531.2 1307.2Z" fill="#3e3d43"/>
<path d="M454.1 1311.2 A36.8 36.8 0 1 1 527.3 1311.2 A36.8 36.8 0 0 0 454.1 1311.2 Z" fill="#65646a"/>
<circle cx="490.7" cy="1307.8" r="23.8" fill="none" stroke="#d6d6d6" stroke-width="0.6"/>
<circle cx="490.7" cy="1307.8" r="21.2" fill="#dadada"/>
<circle cx="490.7" cy="1307.8" r="12.6" fill="#676767"/>
<path d="M478.1 1308.8 A12.6 12.6 0 0 0 503.3 1308.8 A14.5 12.6 0 0 1 478.1 1308.8Z" fill="#5c5c5c"/>
</g>
<g id="truck">
<path d="M615.2 1234.9 L619.7 1236.0 L619.7 1262.5 L615.2 1262.5 Z" fill="#3b3a40"/>
<path d="M631.1 1240.2 L688.4 1257.2 L739.2 1271.6 L760.0 1265.7 L760.0 1305.9 L631.1 1305.9 Z" fill="#5c5c5f"/>
<path d="M700.0 1260.2 L738.2 1271.9 L747.7 1268.7 L763.6 1243.3 L763.6 1253.9 L837.8 1253.9 L852.6 1277.2 L852.6 1311.1 L700.0 1311.1 Z" fill="#5c5c5f"/>
<path d="M697.5 1300.6 L697.3 1305.2 L695.7 1305.8 L695.3 1308.8 L696.6 1309.8 L695.6 1314.3 L693.9 1314.6 L693.0 1317.4 L694.1 1318.7 L692.3 1322.9 L690.6 1322.9 L689.1 1325.5 L690.0 1326.9 L687.4 1330.7 L685.8 1330.4 L683.8 1332.7 L684.5 1334.3 L681.2 1337.6 L679.6 1336.9 L677.3 1338.9 L677.6 1340.5 L673.8 1343.1 L672.4 1342.2 L669.8 1343.7 L669.8 1345.4 L665.6 1347.2 L664.3 1346.1 L661.5 1347.0 L661.2 1348.7 L656.7 1349.7 L655.7 1348.4 L652.7 1348.8 L652.1 1350.4 L647.5 1350.6 L646.8 1349.1 L643.7 1349.0 L642.9 1350.4 L638.3 1349.7 L637.9 1348.1 L634.9 1347.4 L633.8 1348.7 L629.4 1347.2 L629.3 1345.6 L626.5 1344.3 L625.2 1345.4 L621.2 1343.1 L621.4 1341.5 L618.8 1339.7 L617.4 1340.5 L613.8 1337.6 L614.3 1336.0 L612.1 1333.8 L610.5 1334.3 L607.6 1330.7 L608.4 1329.3 L606.6 1326.7 L605.0 1326.9 L602.7 1322.9 L603.8 1321.6 L602.5 1318.8 L600.9 1318.7 L599.4 1314.3 L600.7 1313.2 L600.0 1310.2 L598.4 1309.8 L597.7 1305.2 L599.1 1304.4 L599.0 1301.3 L597.5 1300.6 L597.7 1296.0 L599.3 1295.4 L599.7 1292.4 L598.4 1291.4 L599.4 1286.9 L601.1 1286.6 L602.0 1283.8 L600.9 1282.5 L602.7 1278.3 L604.4 1278.3 L605.9 1275.7 L605.0 1274.3 L607.6 1270.5 L609.2 1270.8 L611.2 1268.5 L610.5 1266.9 L613.8 1263.6 L615.4 1264.3 L617.7 1262.3 L617.4 1260.7 L621.2 1258.1 L622.6 1259.0 L625.2 1257.5 L625.2 1255.8 L629.4 1254.0 L630.7 1255.1 L633.5 1254.2 L633.8 1252.5 L638.3 1251.5 L639.3 1252.8 L642.3 1252.4 L642.9 1250.8 L647.5 1250.6 L648.2 1252.1 L651.3 1252.2 L652.1 1250.8 L656.7 1251.5 L657.1 1253.1 L660.1 1253.8 L661.2 1252.5 L665.6 1254.0 L665.7 1255.6 L668.5 1256.9 L669.8 1255.8 L673.8 1258.1 L673.6 1259.7 L676.2 1261.5 L677.6 1260.7 L681.2 1263.6 L680.7 1265.2 L682.9 1267.4 L684.5 1266.9 L687.4 1270.5 L686.6 1271.9 L688.4 1274.5 L690.0 1274.3 L692.3 1278.3 L691.2 1279.6 L692.5 1282.4 L694.1 1282.5 L695.6 1286.9 L694.3 1288.0 L695.0 1291.0 L696.6 1291.4 L697.3 1296.0 L695.9 1296.8 L696.0 1299.9Z" fill="#3e3d43"/>
<path d="M603.9 1304.6 A43.8 43.8 0 1 1 691.1 1304.6 A43.8 43.8 0 0 0 603.9 1304.6 Z" fill="#65646a"/>
<circle cx="647.5" cy="1300.6" r="28.3" fill="none" stroke="#d6d6d6" stroke-width="0.6"/>
<circle cx="647.5" cy="1300.6" r="25.2" fill="#dadada"/>
<circle cx="647.5" cy="1300.6" r="14.9" fill="#676767"/>
<path d="M632.6 1301.6 A14.9 14.9 0 0 0 662.4 1301.6 A17.1 14.9 0 0 1 632.6 1301.6Z" fill="#5c5c5c"/>
<path d="M850.7 1300.5 L850.5 1305.1 L848.9 1305.7 L848.5 1308.7 L849.8 1309.7 L848.8 1314.2 L847.1 1314.5 L846.2 1317.3 L847.3 1318.6 L845.5 1322.8 L843.8 1322.8 L842.3 1325.4 L843.2 1326.8 L840.6 1330.6 L839.0 1330.3 L837.0 1332.6 L837.7 1334.2 L834.4 1337.5 L832.8 1336.8 L830.5 1338.8 L830.8 1340.4 L827.0 1343.0 L825.6 1342.1 L823.0 1343.6 L823.0 1345.3 L818.8 1347.1 L817.5 1346.0 L814.7 1346.9 L814.4 1348.6 L809.9 1349.6 L808.9 1348.3 L805.9 1348.7 L805.3 1350.3 L800.7 1350.5 L800.0 1349.0 L796.9 1348.9 L796.1 1350.3 L791.5 1349.6 L791.1 1348.0 L788.1 1347.3 L787.0 1348.6 L782.6 1347.1 L782.5 1345.5 L779.7 1344.2 L778.4 1345.3 L774.4 1343.0 L774.6 1341.4 L772.0 1339.6 L770.6 1340.4 L767.0 1337.5 L767.5 1335.9 L765.3 1333.7 L763.7 1334.2 L760.8 1330.6 L761.6 1329.2 L759.8 1326.6 L758.2 1326.8 L755.9 1322.8 L757.0 1321.5 L755.7 1318.7 L754.1 1318.6 L752.6 1314.2 L753.9 1313.1 L753.2 1310.1 L751.6 1309.7 L750.9 1305.1 L752.3 1304.3 L752.2 1301.2 L750.7 1300.5 L750.9 1295.9 L752.5 1295.3 L752.9 1292.3 L751.6 1291.3 L752.6 1286.8 L754.3 1286.5 L755.2 1283.7 L754.1 1282.4 L755.9 1278.2 L757.6 1278.2 L759.1 1275.6 L758.2 1274.2 L760.8 1270.4 L762.4 1270.7 L764.4 1268.4 L763.7 1266.8 L767.0 1263.5 L768.6 1264.2 L770.9 1262.2 L770.6 1260.6 L774.4 1258.0 L775.8 1258.9 L778.4 1257.4 L778.4 1255.7 L782.6 1253.9 L783.9 1255.0 L786.7 1254.1 L787.0 1252.4 L791.5 1251.4 L792.5 1252.7 L795.5 1252.3 L796.1 1250.7 L800.7 1250.5 L801.4 1252.0 L804.5 1252.1 L805.3 1250.7 L809.9 1251.4 L810.3 1253.0 L813.3 1253.7 L814.4 1252.4 L818.8 1253.9 L818.9 1255.5 L821.7 1256.8 L823.0 1255.7 L827.0 1258.0 L826.8 1259.6 L829.4 1261.4 L830.8 1260.6 L834.4 1263.5 L833.9 1265.1 L836.1 1267.3 L837.7 1266.8 L840.6 1270.4 L839.8 1271.8 L841.6 1274.4 L843.2 1274.2 L845.5 1278.2 L844.4 1279.5 L845.7 1282.3 L847.3 1282.4 L848.8 1286.8 L847.5 1287.9 L848.2 1290.9 L849.8 1291.3 L850.5 1295.9 L849.1 1296.7 L849.2 1299.8Z" fill="#3e3d43"/>
<path d="M757.1 1304.5 A43.8 43.8 0 1 1 844.3 1304.5 A43.8 43.8 0 0 0 757.1 1304.5 Z" fill="#65646a"/>
<circle cx="800.7" cy="1300.5" r="28.3" fill="none" stroke="#d6d6d6" stroke-width="0.6"/>
<circle cx="800.7" cy="1300.5" r="25.2" fill="#dadada"/>
<circle cx="800.7" cy="1300.5" r="14.9" fill="#676767"/>
<path d="M785.8 1301.5 A14.9 14.9 0 0 0 815.6 1301.5 A17.1 14.9 0 0 1 785.8 1301.5Z" fill="#5c5c5c"/>
<path d="M837.8 1248.8 L870.0 1248.8 L870.0 1285.7 L861.7 1323.0 L856.2 1323.0 L855.4 1287.8 L848.4 1264.5 L838.8 1254.3 Z" fill="#f2c832"/>
<path d="M786.5 1205.9 L818.9 1205.9 L823.0 1219.3 L829.7 1226.8 L834.4 1230.1 L870.2 1247.7 L870.2 1254.8 L763.6 1254.8 L763.6 1247.7 L777.1 1247.7 L777.1 1223.4 L786.5 1223.4 Z" fill="#f2c832"/>
<path d="M823.0 1220.7 L869.5 1220.7 L869.5 1247.7 L834.4 1247.7 L834.4 1230.1 L829.7 1226.8 Z" fill="#5b5b5d"/>
<path d="M804.1 1210.2 L818.0 1210.2 L819.8 1221.5 L804.1 1221.5 Z" fill="#80b5e6"/>
<path d="M804.1 1218.0 L812.2 1210.2 L815.5 1210.2 L804.1 1221.0 Z" fill="#a9cff0"/>
<path d="M810.1 1221.5 L818.6 1213.3 L819.3 1217.3 L814.9 1221.5 Z" fill="#a9cff0"/>
<circle cx="835.1" cy="1238.9" r="8.8" fill="#edb735"/>
<circle cx="853.7" cy="1238.9" r="8.8" fill="#edb735"/>
<path d="M804.5 1223.1 L805.1 1223.1 L805.1 1246.3 L804.5 1246.3 Z" fill="#edb735"/>
<path d="M777.1 1233.5 L829.0 1233.5 L829.0 1234.2 L777.1 1234.2 Z" fill="#edb735"/>
<path d="M850.3 1206.9 L854.0 1206.9 L854.0 1221.0 L850.3 1221.0 Z" fill="#333338"/>
<path d="M762.9 1245.2 L775.3 1223.4 L861.4 1223.4 Q866.1 1223.4 866.1 1228.1 L866.1 1253.7" fill="none" stroke="#44759f" stroke-width="1.7" stroke-linejoin="round"/>
<line x1="786.5" y1="1223.4" x2="786.5" y2="1253.7" stroke="#44759f" stroke-width="1.6" stroke-linecap="round"/>
<line x1="796.0" y1="1223.4" x2="796.0" y2="1253.7" stroke="#44759f" stroke-width="1.6" stroke-linecap="round"/>
<line x1="818.9" y1="1223.4" x2="818.9" y2="1253.7" stroke="#44759f" stroke-width="1.6" stroke-linecap="round"/>
<line x1="840.5" y1="1223.4" x2="840.5" y2="1253.7" stroke="#44759f" stroke-width="1.6" stroke-linecap="round"/>
<line x1="762.9" y1="1246.3" x2="762.9" y2="1253.7" stroke="#44759f" stroke-width="1.6" stroke-linecap="round"/>
<line x1="762.3" y1="1246.7" x2="866.8" y2="1246.7" stroke="#44759f" stroke-width="3.2" stroke-linecap="round"/>
<path d="M764.0 1239.7 L776.9 1239.7 L776.9 1245.8 L763.1 1245.8 L748.4 1269.2 L740.9 1271.9 L759.1 1243.2 Z" fill="#5c5c5f"/>
<path d="M547.4 1209.5 L575.0 1181.9 L813.5 1182.2 L813.5 1177.3 L850.6 1177.3 L850.6 1187.7 C834.4 1190.3 823.6 1192.4 798.7 1203.3 C791.7 1206.2 782.5 1211.4 775.0 1215.7 L739.7 1272.1 Z" fill="#f2c832"/>
<path d="M761.1 1248.1 L762.6 1254.8 L750.3 1268.9 L747.5 1268.9 Z" fill="#f2c832"/>
<path d="M575.0 1181.9 L813.5 1182.2 L813.5 1177.3 L850.6 1177.3 L850.6 1187.7 C834.4 1190.3 823.6 1192.4 798.7 1203.3 C791.7 1206.2 782.5 1211.4 775.0 1215.7 L766.3 1211.1 L799.2 1196.0 L799.2 1189.0 L582.4 1189.6 L557.0 1214.1 L547.4 1209.5 Z" fill="#edb735"/>
<path d="M775.0 1215.7 L766.3 1211.1 L763.1 1218.0 L731.8 1268.2 L739.7 1272.1 Z" fill="#edb735"/>
<path d="M741.8 1201.8 L745.3 1197.2 L770.9 1208.5 L766.3 1214.9 Z" fill="#edb735"/>
<path d="M576.0 1182.6 L813.5 1182.9" stroke="#f6d872" stroke-width="1" fill="none"/>
<path d="M813.5 1177.9 L850.6 1177.9" stroke="#f6d872" stroke-width="1" fill="none"/>
<line x1="763.1" y1="1218.5" x2="732.2" y2="1268.2" stroke="#f6d872" stroke-width="0.8"/>
<line x1="767.2" y1="1210.6" x2="799.2" y2="1195.8" stroke="#f6d872" stroke-width="0.8"/>
<path d="M601.5 1190.0 L608.7 1190.0 L597.0 1228.8 L589.8 1226.4 Z" fill="#edb735"/>
<line x1="602.1" y1="1190.0" x2="590.4" y2="1226.7" stroke="#f6d872" stroke-width="1.1"/>
<line x1="608.5" y1="1190.0" x2="596.8" y2="1228.6" stroke="#f6d872" stroke-width="0.5"/>
<path d="M629.0 1190.0 L636.2 1190.0 L622.5 1237.2 L615.2 1234.9 Z" fill="#edb735"/>
<line x1="629.7" y1="1190.0" x2="615.9" y2="1235.1" stroke="#f6d872" stroke-width="1.1"/>
<line x1="636.0" y1="1190.0" x2="622.2" y2="1237.0" stroke="#f6d872" stroke-width="0.5"/>
<path d="M656.2 1190.0 L663.4 1190.0 L647.9 1245.7 L640.7 1243.4 Z" fill="#edb735"/>
<line x1="656.8" y1="1190.0" x2="641.3" y2="1243.6" stroke="#f6d872" stroke-width="1.1"/>
<line x1="663.1" y1="1190.0" x2="647.7" y2="1245.5" stroke="#f6d872" stroke-width="0.5"/>
<path d="M683.7 1190.0 L690.9 1190.0 L674.0 1253.8 L666.7 1251.4 Z" fill="#edb735"/>
<line x1="684.3" y1="1190.0" x2="667.4" y2="1251.7" stroke="#f6d872" stroke-width="1.1"/>
<line x1="690.7" y1="1190.0" x2="673.7" y2="1253.6" stroke="#f6d872" stroke-width="0.5"/>
<path d="M711.3 1190.0 L718.5 1190.0 L698.8 1261.6 L691.5 1259.3 Z" fill="#edb735"/>
<line x1="711.9" y1="1190.0" x2="692.2" y2="1259.5" stroke="#f6d872" stroke-width="1.1"/>
<line x1="718.3" y1="1190.0" x2="698.5" y2="1261.4" stroke="#f6d872" stroke-width="0.5"/>
<path d="M738.8 1190.0 L746.0 1190.0 L724.2 1270.1 L717.0 1267.8 Z" fill="#edb735"/>
<line x1="739.4" y1="1190.0" x2="717.6" y2="1268.0" stroke="#f6d872" stroke-width="1.1"/>
<line x1="745.8" y1="1190.0" x2="724.0" y2="1269.9" stroke="#f6d872" stroke-width="0.5"/>
<path d="M711.4 1189.2 L718.8 1189.2 L698.2 1260.2 L690.6 1257.7 Z" fill="#edb735"/>
<line x1="712.1" y1="1189.2" x2="691.3" y2="1257.9" stroke="#f6d872" stroke-width="1.1"/>
<line x1="718.6" y1="1189.2" x2="698.0" y2="1260.0" stroke="#f6d872" stroke-width="0.5"/>
<path d="M738.6 1189.2 L746.0 1189.2 L722.5 1268.9 L714.9 1266.3 Z" fill="#edb735"/>
<line x1="739.2" y1="1189.2" x2="715.5" y2="1266.6" stroke="#f6d872" stroke-width="1.1"/>
<line x1="745.7" y1="1189.2" x2="722.3" y2="1268.6" stroke="#f6d872" stroke-width="0.5"/>
<rect x="701.1" y="1276.9" width="38.2" height="15.3" rx="5.5" fill="#e6e6e6"/>
<rect x="703.1" y="1277.9" width="34.2" height="5" rx="2.5" fill="#f4f4f4"/>
<rect x="708.5" y="1275.8" width="2.1" height="17.4" fill="#8e8e90"/>
<rect x="729.7" y="1275.8" width="2.1" height="17.4" fill="#8e8e90"/>
<path d="M701.5 1295.3 L746.7 1295.3 L746.7 1306.3 L701.5 1306.3 Z" fill="#454547"/>
<path d="M703.6 1306.3 L743.9 1306.3 L743.9 1312.7 L703.6 1312.7 Z" fill="#2f3030"/>
<path d="M580.8 1181.9 L583.1 1177.8 L589.3 1175.9 L594.7 1178.6 L597.0 1174.7 L600.8 1169.3 L607.0 1167.0 L614.7 1170.4 L620.1 1170.4 L623.2 1166.7 L629.3 1163.6 L630.4 1159.0 L636.0 1157.0 L638.7 1160.2 L646.8 1157.1 L648.3 1153.1 L661.7 1147.0 L667.4 1152.5 L664.3 1156.5 L671.7 1157.3 L676.4 1154.7 L679.9 1157.1 L679.7 1163.3 L684.8 1166.4 L691.8 1165.1 L696.9 1169.2 L698.7 1176.2 L702.3 1180.6 L708.0 1175.0 L715.7 1181.9 Z" fill="#2b2b2c"/>
<path d="M600.8 1169.3 L607.0 1167.0 L614.7 1170.4 L611.6 1176.2 L603.1 1175.5 Z" fill="#3c3c3d"/>
<path d="M648.3 1153.1 L661.7 1147.0 L657.9 1154.7 L650.2 1158.5 Z" fill="#414142"/>
<path d="M661.7 1147.0 L667.4 1152.5 L662.5 1158.5 L657.9 1154.7 Z" fill="#1d1d1e"/>
<path d="M636.3 1160.8 L646.8 1157.1 L650.2 1165.5 L644.0 1176.2 L634.7 1173.2 Z" fill="#1e1e1f"/>
<path d="M623.2 1166.7 L629.3 1163.6 L634.7 1168.5 L631.7 1176.2 L623.9 1174.7 Z" fill="#3d3d3e"/>
<path d="M629.3 1159.0 L636.0 1157.0 L638.7 1160.2 L633.2 1163.9 Z" fill="#444445"/>
<path d="M650.2 1158.5 L657.9 1154.7 L662.5 1158.5 L664.0 1167.0 L656.3 1170.1 Z" fill="#454546"/>
<path d="M664.3 1156.5 L671.7 1157.3 L676.4 1163.1 L670.2 1168.5 L664.8 1164.7 Z" fill="#202021"/>
<path d="M671.7 1157.3 L676.4 1154.7 L679.9 1157.1 L679.7 1163.3 L676.4 1163.1 Z" fill="#3e3e3f"/>
<path d="M684.8 1166.4 L691.8 1165.1 L696.9 1169.2 L693.3 1174.7 L687.1 1172.4 Z" fill="#3f3f40"/>
<path d="M691.8 1170.1 L696.9 1169.2 L698.7 1176.2 L693.3 1176.2 Z" fill="#232324"/>
<path d="M583.1 1177.8 L589.3 1175.9 L594.7 1178.6 L593.1 1181.9 L582.3 1181.9 Z" fill="#363637"/>
<path d="M597.0 1174.7 L603.1 1175.5 L611.6 1176.2 L608.5 1181.9 L597.7 1181.9 Z" fill="#232324"/>
<path d="M702.3 1180.6 L708.0 1175.0 L715.7 1181.9 L702.6 1181.9 Z" fill="#363637"/>
<path d="M653.2 1170.4 L662.5 1168.5 L668.7 1174.7 L662.5 1181.9 L651.7 1179.3 Z" fill="#1f1f20"/>
<path d="M671.7 1169.3 L681.0 1167.0 L687.1 1173.2 L681.0 1177.8 L673.3 1176.2 Z" fill="#333334"/>
<path d="M614.7 1176.2 L622.4 1175.5 L625.5 1181.9 L616.2 1181.9 Z" fill="#3a3a3b"/>
<path d="M637.8 1176.2 L647.1 1177.0 L650.2 1181.9 L636.3 1181.9 Z" fill="#3f3f40"/>
</g>
</g>
<path d="M0 70 H848 a16 16 0 0 1 16 16 V195 a16 16 0 0 1 -16 16 H0 Z" fill="#b0847a"/>
<line x1="124" y1="500" x2="124" y2="556" stroke="#1c1a1c" stroke-width="1.6"/>
<line x1="383" y1="500" x2="383" y2="556" stroke="#1c1a1c" stroke-width="1.6"/>
<line x1="652" y1="500" x2="652" y2="556" stroke="#1c1a1c" stroke-width="1.6"/>
<line x1="908.8" y1="500" x2="908.8" y2="556" stroke="#1c1a1c" stroke-width="1.6"/>
<line x1="124" y1="524.4" x2="908.8" y2="524.4" stroke="#1c1a1c" stroke-width="1.6"/>
<line x1="124" y1="770" x2="124" y2="801.8" stroke="#1c1a1c" stroke-width="1.6"/>
<line x1="385.5" y1="770" x2="385.5" y2="801.8" stroke="#1c1a1c" stroke-width="1.6"/>
<line x1="649" y1="770" x2="649" y2="801.8" stroke="#1c1a1c" stroke-width="1.6"/>
<line x1="905.3" y1="770" x2="905.3" y2="801.8" stroke="#1c1a1c" stroke-width="1.6"/>
<path d="M124 801.8 H905.3" stroke="#1c1a1c" stroke-width="1.6" fill="none"/>
<line x1="529.2" y1="801.8" x2="529.2" y2="828" stroke="#1c1a1c" stroke-width="1.6"/>
<line x1="529.2" y1="928" x2="529.2" y2="977" stroke="#1c1a1c" stroke-width="1.6"/>
<rect x="36.3" y="240.5" width="184.9" height="262.5" rx="16" fill="#b0847a"/>
<rect x="293" y="240.5" width="185.1" height="262.5" rx="16" fill="#b0847a"/>
<rect x="556.8" y="240.5" width="184.9" height="262.5" rx="16" fill="#b0847a"/>
<rect x="811.6" y="240.5" width="184.6" height="262.5" rx="16" fill="#b0847a"/>
<rect x="37" y="554.5" width="192.2" height="218.5" rx="17" fill="#b0847a"/>
<rect x="289.5" y="554.5" width="192.2" height="218.5" rx="17" fill="#b0847a"/>
<rect x="553" y="554.5" width="192.4" height="218.5" rx="17" fill="#b0847a"/>
<rect x="808" y="554.5" width="192.2" height="218.5" rx="17" fill="#b0847a"/>
<rect x="369.7" y="826.6" width="311.7" height="103.3" rx="17" fill="#b0847a"/>
<rect x="350" y="975.7" width="356.5" height="53.2" rx="17" fill="#b0847a"/>
<g filter="url(#gray)"><text x="23.0" y="122.7" font-size="53.5" font-weight="700" fill="#fff" textLength="777.5" lengthAdjust="spacingAndGlyphs" stroke="#fff" stroke-width="0.9">Pohon Perundangan Minerba</text>
<text x="22.5" y="190.3" font-size="53.5" font-weight="700" fill="#fff" textLength="327.3" lengthAdjust="spacingAndGlyphs" stroke="#fff" stroke-width="0.9">di Indonesia</text>
<text x="47.5" y="265.1" font-size="16.4" font-weight="700" fill="#fff" textLength="109.6" lengthAdjust="spacingAndGlyphs">Permen ESDM</text>
<text x="47.5" y="286.0" font-size="16.4" font-weight="400" fill="#fff" textLength="156.5" lengthAdjust="spacingAndGlyphs" stroke="#fff" stroke-width="0.3">Tata Cara Pemberian</text>
<text x="47.5" y="306.9" font-size="16.4" font-weight="400" fill="#fff" textLength="124.1" lengthAdjust="spacingAndGlyphs" stroke="#fff" stroke-width="0.3">Wilayah dan IUP</text>
<text x="47.5" y="327.8" font-size="16.4" font-weight="400" fill="#fff" textLength="60.8" lengthAdjust="spacingAndGlyphs" stroke="#fff" stroke-width="0.3">Minerba</text>
<text x="47.5" y="369.6" font-size="16.4" font-weight="700" fill="#fff" textLength="47.2" lengthAdjust="spacingAndGlyphs">Dasar:</text>
<text x="47.5" y="390.5" font-size="16.4" font-weight="400" fill="#fff" textLength="136.7" lengthAdjust="spacingAndGlyphs" stroke="#fff" stroke-width="0.3">Permen ESDM No.</text>
<text transform="translate(47.48 411.40) scale(0.9644 0.72)" font-size="16.4" font-weight="400" fill="#fff" stroke="#fff" stroke-width="0.3">1</text>
<text transform="translate(56.28 411.40) scale(0.9644 0.72)" font-size="16.4" font-weight="400" fill="#fff" stroke="#fff" stroke-width="0.3">1</text>
<text x="65.07" y="411.4" font-size="16.4" font-weight="400" fill="#fff" textLength="4.39" lengthAdjust="spacingAndGlyphs" stroke="#fff" stroke-width="0.3">/</text>
<text transform="translate(69.47 411.40) scale(0.9644 0.72)" font-size="16.4" font-weight="400" fill="#fff" stroke="#fff" stroke-width="0.3">2</text>
<text transform="translate(78.26 411.40) scale(0.9644 0.72)" font-size="16.4" font-weight="400" fill="#fff" stroke="#fff" stroke-width="0.3">0</text>
<text transform="translate(87.06 411.40) scale(0.9644 0.72)" font-size="16.4" font-weight="400" fill="#fff" stroke="#fff" stroke-width="0.3">1</text>
<text transform="translate(95.85 411.40) scale(0.9644 1.0)" font-size="16.4" font-weight="400" fill="#fff" stroke="#fff" stroke-width="0.3">8</text>
<text x="47.5" y="453.2" font-size="16.4" font-weight="700" fill="#fff" textLength="155.5" lengthAdjust="spacingAndGlyphs">Perubahan Terakhir:</text>
<text x="47.5" y="474.1" font-size="16.4" font-weight="400" fill="#fff" textLength="136.7" lengthAdjust="spacingAndGlyphs" stroke="#fff" stroke-width="0.3">Permen ESDM No.</text>
<text transform="translate(47.48 497.21) scale(1.0626 0.96)" font-size="16.4" font-weight="400" fill="#fff" stroke="#fff" stroke-width="0.3">7</text>
<text x="57.17" y="495.0" font-size="16.4" font-weight="400" fill="#fff" textLength="4.84" lengthAdjust="spacingAndGlyphs" stroke="#fff" stroke-width="0.3">/</text>
<text transform="translate(62.01 495.00) scale(1.0626 0.72)" font-size="16.4" font-weight="400" fill="#fff" stroke="#fff" stroke-width="0.3">2</text>
<text transform="translate(71.70 495.00) scale(1.0626 0.72)" font-size="16.4" font-weight="400" fill="#fff" stroke="#fff" stroke-width="0.3">0</text>
<text transform="translate(81.39 495.00) scale(1.0626 0.72)" font-size="16.4" font-weight="400" fill="#fff" stroke="#fff" stroke-width="0.3">2</text>
<text transform="translate(91.08 495.00) scale(1.0626 0.72)" font-size="16.4" font-weight="400" fill="#fff" stroke="#fff" stroke-width="0.3">0</text>
<text x="303.2" y="275.6" font-size="16.4" font-weight="700" fill="#fff" textLength="109.6" lengthAdjust="spacingAndGlyphs">Permen ESDM</text>
<text x="303.2" y="296.5" font-size="16.4" font-weight="400" fill="#fff" textLength="101.9" lengthAdjust="spacingAndGlyphs" stroke="#fff" stroke-width="0.3">Pengusahaan</text>
<text x="303.2" y="317.4" font-size="16.4" font-weight="400" fill="#fff" textLength="60.8" lengthAdjust="spacingAndGlyphs" stroke="#fff" stroke-width="0.3">Minerba</text>
<text x="303.2" y="359.2" font-size="16.4" font-weight="700" fill="#fff" textLength="47.4" lengthAdjust="spacingAndGlyphs">Dasar:</text>
<text x="303.2" y="380.1" font-size="16.4" font-weight="400" fill="#fff" textLength="136.9" lengthAdjust="spacingAndGlyphs" stroke="#fff" stroke-width="0.3">Permen ESDM No.</text>
<text transform="translate(303.18 401.00) scale(1.0256 0.72)" font-size="16.4" font-weight="400" fill="#fff" stroke="#fff" stroke-width="0.3">2</text>
<text transform="translate(312.53 403.21) scale(1.0256 0.96)" font-size="16.4" font-weight="400" fill="#fff" stroke="#fff" stroke-width="0.3">5</text>
<text x="321.89" y="401.0" font-size="16.4" font-weight="400" fill="#fff" textLength="4.67" lengthAdjust="spacingAndGlyphs" stroke="#fff" stroke-width="0.3">/</text>
<text transform="translate(326.56 401.00) scale(1.0256 0.72)" font-size="16.4" font-weight="400" fill="#fff" stroke="#fff" stroke-width="0.3">2</text>
<text transform="translate(335.91 401.00) scale(1.0256 0.72)" font-size="16.4" font-weight="400" fill="#fff" stroke="#fff" stroke-width="0.3">0</text>
<text transform="translate(345.27 401.00) scale(1.0256 0.72)" font-size="16.4" font-weight="400" fill="#fff" stroke="#fff" stroke-width="0.3">1</text>
<text transform="translate(354.62 401.00) scale(1.0256 1.0)" font-size="16.4" font-weight="400" fill="#fff" stroke="#fff" stroke-width="0.3">8</text>
<text x="303.2" y="442.8" font-size="16.4" font-weight="700" fill="#fff" textLength="155.7" lengthAdjust="spacingAndGlyphs">Perubahan Terakhir:</text>
<text x="303.2" y="463.7" font-size="16.4" font-weight="400" fill="#fff" textLength="136.9" lengthAdjust="spacingAndGlyphs" stroke="#fff" stroke-width="0.3">Permen ESDM No.</text>
<text transform="translate(303.18 484.60) scale(1.0206 0.72)" font-size="16.4" font-weight="400" fill="#fff" stroke="#fff" stroke-width="0.3">1</text>
<text transform="translate(312.49 486.81) scale(1.0206 0.96)" font-size="16.4" font-weight="400" fill="#fff" stroke="#fff" stroke-width="0.3">7</text>
<text x="321.79" y="484.6" font-size="16.4" font-weight="400" fill="#fff" textLength="4.65" lengthAdjust="spacingAndGlyphs" stroke="#fff" stroke-width="0.3">/</text>
<text transform="translate(326.44 484.60) scale(1.0206 0.72)" font-size="16.4" font-weight="400" fill="#fff" stroke="#fff" stroke-width="0.3">2</text>
<text transform="translate(335.75 484.60) scale(1.0206 0.72)" font-size="16.4" font-weight="400" fill="#fff" stroke="#fff" stroke-width="0.3">0</text>
<text transform="translate(345.06 484.60) scale(1.0206 0.72)" font-size="16.4" font-weight="400" fill="#fff" stroke="#fff" stroke-width="0.3">2</text>
<text transform="translate(354.37 484.60) scale(1.0206 0.72)" font-size="16.4" font-weight="400" fill="#fff" stroke="#fff" stroke-width="0.3">0</text>
<text x="566.2" y="264.1" font-size="16.4" font-weight="700" fill="#fff" textLength="109.9" lengthAdjust="spacingAndGlyphs">Permen ESDM</text>
<text x="566.2" y="285.0" font-size="16.4" font-weight="400" fill="#fff" textLength="112.9" lengthAdjust="spacingAndGlyphs" stroke="#fff" stroke-width="0.3">Pemberian Izin</text>
<text x="566.2" y="305.9" font-size="16.4" font-weight="400" fill="#fff" textLength="170.0" lengthAdjust="spacingAndGlyphs" stroke="#fff" stroke-width="0.3">Khusus Pertambangan</text>
<text x="566.2" y="326.8" font-size="16.4" font-weight="400" fill="#fff" textLength="61.0" lengthAdjust="spacingAndGlyphs" stroke="#fff" stroke-width="0.3">Minerba</text>
<text x="566.2" y="368.6" font-size="16.4" font-weight="700" fill="#fff" textLength="47.4" lengthAdjust="spacingAndGlyphs">Dasar:</text>
<text x="566.2" y="389.5" font-size="16.4" font-weight="400" fill="#fff" textLength="137.1" lengthAdjust="spacingAndGlyphs" stroke="#fff" stroke-width="0.3">Permen ESDM No.</text>
<text transform="translate(566.18 412.61) scale(1.0037 0.96)" font-size="16.4" font-weight="400" fill="#fff" stroke="#fff" stroke-width="0.3">3</text>
<text transform="translate(575.33 410.40) scale(1.0037 0.72)" font-size="16.4" font-weight="400" fill="#fff" stroke="#fff" stroke-width="0.3">2</text>
<text x="584.49" y="410.4" font-size="16.4" font-weight="400" fill="#fff" textLength="4.57" lengthAdjust="spacingAndGlyphs" stroke="#fff" stroke-width="0.3">/</text>
<text transform="translate(589.06 410.40) scale(1.0037 0.72)" font-size="16.4" font-weight="400" fill="#fff" stroke="#fff" stroke-width="0.3">2</text>
<text transform="translate(598.21 410.40) scale(1.0037 0.72)" font-size="16.4" font-weight="400" fill="#fff" stroke="#fff" stroke-width="0.3">0</text>
<text transform="translate(607.37 410.40) scale(1.0037 0.72)" font-size="16.4" font-weight="400" fill="#fff" stroke="#fff" stroke-width="0.3">1</text>
<text transform="translate(616.52 412.61) scale(1.0037 0.96)" font-size="16.4" font-weight="400" fill="#fff" stroke="#fff" stroke-width="0.3">3</text>
<text x="566.2" y="452.2" font-size="16.4" font-weight="700" fill="#fff" textLength="155.5" lengthAdjust="spacingAndGlyphs">Perubahan Terakhir:</text>
<text x="566.2" y="473.1" font-size="16.4" font-weight="400" fill="#fff" textLength="137.1" lengthAdjust="spacingAndGlyphs" stroke="#fff" stroke-width="0.3">Permen ESDM No.</text>
<text transform="translate(566.18 496.21) scale(1.0121 0.96)" font-size="16.4" font-weight="400" fill="#fff" stroke="#fff" stroke-width="0.3">3</text>
<text transform="translate(575.41 494.00) scale(1.0121 0.72)" font-size="16.4" font-weight="400" fill="#fff" stroke="#fff" stroke-width="0.3">2</text>
<text x="584.64" y="494.0" font-size="16.4" font-weight="400" fill="#fff" textLength="4.61" lengthAdjust="spacingAndGlyphs" stroke="#fff" stroke-width="0.3">/</text>
<text transform="translate(589.25 494.00) scale(1.0121 0.72)" font-size="16.4" font-weight="400" fill="#fff" stroke="#fff" stroke-width="0.3">2</text>
<text transform="translate(598.48 494.00) scale(1.0121 0.72)" font-size="16.4" font-weight="400" fill="#fff" stroke="#fff" stroke-width="0.3">0</text>
<text transform="translate(607.71 494.00) scale(1.0121 0.72)" font-size="16.4" font-weight="400" fill="#fff" stroke="#fff" stroke-width="0.3">1</text>
<text transform="translate(616.94 496.21) scale(1.0121 0.96)" font-size="16.4" font-weight="400" fill="#fff" stroke="#fff" stroke-width="0.3">5</text>
<text x="819.3" y="308.7" font-size="16.4" font-weight="700" fill="#fff" textLength="109.9" lengthAdjust="spacingAndGlyphs">Permen ESDM</text>
<text x="819.3" y="329.6" font-size="16.4" font-weight="400" fill="#fff" textLength="146.9" lengthAdjust="spacingAndGlyphs" stroke="#fff" stroke-width="0.3">Evaluasi Pemberian</text>
<text x="819.3" y="350.5" font-size="16.4" font-weight="400" fill="#fff" textLength="92.3" lengthAdjust="spacingAndGlyphs" stroke="#fff" stroke-width="0.3">IUP Minerba</text>
<text x="819.3" y="392.3" font-size="16.4" font-weight="400" fill="#fff" textLength="136.9" lengthAdjust="spacingAndGlyphs" stroke="#fff" stroke-width="0.3">Permen ESDM No.</text>
<text transform="translate(819.28 415.41) scale(1.0374 0.96)" font-size="16.4" font-weight="400" fill="#fff" stroke="#fff" stroke-width="0.3">4</text>
<text transform="translate(828.74 415.41) scale(1.0374 0.96)" font-size="16.4" font-weight="400" fill="#fff" stroke="#fff" stroke-width="0.3">3</text>
<text x="838.20" y="413.2" font-size="16.4" font-weight="400" fill="#fff" textLength="4.73" lengthAdjust="spacingAndGlyphs" stroke="#fff" stroke-width="0.3">/</text>
<text transform="translate(842.93 413.20) scale(1.0374 0.72)" font-size="16.4" font-weight="400" fill="#fff" stroke="#fff" stroke-width="0.3">2</text>
<text transform="translate(852.39 413.20) scale(1.0374 0.72)" font-size="16.4" font-weight="400" fill="#fff" stroke="#fff" stroke-width="0.3">0</text>
<text transform="translate(861.85 413.20) scale(1.0374 0.72)" font-size="16.4" font-weight="400" fill="#fff" stroke="#fff" stroke-width="0.3">1</text>
<text transform="translate(871.31 415.41) scale(1.0374 0.96)" font-size="16.4" font-weight="400" fill="#fff" stroke="#fff" stroke-width="0.3">5</text>
<text x="45.7" y="613.9" font-size="17.6" font-weight="700" fill="#fff" textLength="162.8" lengthAdjust="spacingAndGlyphs">PP Pembinaan dan</text>
<text x="45.7" y="636.9" font-size="17.6" font-weight="700" fill="#fff" textLength="166.6" lengthAdjust="spacingAndGlyphs">Pengawasan Usaha</text>
<text x="45.7" y="660.0" font-size="17.6" font-weight="700" fill="#fff" textLength="70.1" lengthAdjust="spacingAndGlyphs">Minerba</text>
<text x="45.72" y="706.1" font-size="17.6" font-weight="400" fill="#fff" textLength="56.80" lengthAdjust="spacingAndGlyphs" stroke="#fff" stroke-width="0.3">PP No.</text>
<text transform="translate(107.86 708.48) scale(1.0247 0.96)" font-size="17.6" font-weight="400" fill="#fff" stroke="#fff" stroke-width="0.3">5</text>
<text transform="translate(117.89 708.48) scale(1.0247 0.96)" font-size="17.6" font-weight="400" fill="#fff" stroke="#fff" stroke-width="0.3">5</text>
<text x="127.92" y="706.1" font-size="17.6" font-weight="400" fill="#fff" textLength="5.01" lengthAdjust="spacingAndGlyphs" stroke="#fff" stroke-width="0.3">/</text>
<text transform="translate(132.93 706.10) scale(1.0247 0.72)" font-size="17.6" font-weight="400" fill="#fff" stroke="#fff" stroke-width="0.3">2</text>
<text transform="translate(142.96 706.10) scale(1.0247 0.72)" font-size="17.6" font-weight="400" fill="#fff" stroke="#fff" stroke-width="0.3">0</text>
<text transform="translate(152.99 706.10) scale(1.0247 0.72)" font-size="17.6" font-weight="400" fill="#fff" stroke="#fff" stroke-width="0.3">1</text>
<text transform="translate(163.01 706.10) scale(1.0247 0.72)" font-size="17.6" font-weight="400" fill="#fff" stroke="#fff" stroke-width="0.3">0</text>
<text x="300.6" y="579.6" font-size="17.6" font-weight="700" fill="#fff" textLength="135.3" lengthAdjust="spacingAndGlyphs">PP Pelaksanaan</text>
<text x="300.6" y="602.6" font-size="17.6" font-weight="700" fill="#fff" textLength="134.5" lengthAdjust="spacingAndGlyphs">Kegiatan Usaha</text>
<text x="300.6" y="625.7" font-size="17.6" font-weight="700" fill="#fff" textLength="69.5" lengthAdjust="spacingAndGlyphs">Minerba</text>
<text x="300.6" y="671.8" font-size="17.6" font-weight="700" fill="#fff" textLength="52.1" lengthAdjust="spacingAndGlyphs">Dasar:</text>
<text x="300.62" y="694.8" font-size="17.6" font-weight="400" fill="#fff" textLength="56.00" lengthAdjust="spacingAndGlyphs" stroke="#fff" stroke-width="0.3">PP No.</text>
<text transform="translate(361.88 694.85) scale(1.0101 0.72)" font-size="17.6" font-weight="400" fill="#fff" stroke="#fff" stroke-width="0.3">2</text>
<text transform="translate(371.77 697.23) scale(1.0101 0.96)" font-size="17.6" font-weight="400" fill="#fff" stroke="#fff" stroke-width="0.3">3</text>
<text x="381.65" y="694.8" font-size="17.6" font-weight="400" fill="#fff" textLength="4.94" lengthAdjust="spacingAndGlyphs" stroke="#fff" stroke-width="0.3">/</text>
<text transform="translate(386.59 694.85) scale(1.0101 0.72)" font-size="17.6" font-weight="400" fill="#fff" stroke="#fff" stroke-width="0.3">2</text>
<text transform="translate(396.48 694.85) scale(1.0101 0.72)" font-size="17.6" font-weight="400" fill="#fff" stroke="#fff" stroke-width="0.3">0</text>
<text transform="translate(406.37 694.85) scale(1.0101 0.72)" font-size="17.6" font-weight="400" fill="#fff" stroke="#fff" stroke-width="0.3">1</text>
<text transform="translate(416.25 694.85) scale(1.0101 0.72)" font-size="17.6" font-weight="400" fill="#fff" stroke="#fff" stroke-width="0.3">0</text>
<text x="300.6" y="740.9" font-size="17.6" font-weight="700" fill="#fff" textLength="170.3" lengthAdjust="spacingAndGlyphs">Perubahan Terakhir:</text>
<text x="300.62" y="764.0" font-size="17.6" font-weight="400" fill="#fff" textLength="56.09" lengthAdjust="spacingAndGlyphs" stroke="#fff" stroke-width="0.3">PP No.</text>
<text transform="translate(361.98 764.00) scale(1.0118 1.0)" font-size="17.6" font-weight="400" fill="#fff" stroke="#fff" stroke-width="0.3">8</text>
<text x="371.88" y="764.0" font-size="17.6" font-weight="400" fill="#fff" textLength="4.95" lengthAdjust="spacingAndGlyphs" stroke="#fff" stroke-width="0.3">/</text>
<text transform="translate(376.83 764.00) scale(1.0118 0.72)" font-size="17.6" font-weight="400" fill="#fff" stroke="#fff" stroke-width="0.3">2</text>
<text transform="translate(386.73 764.00) scale(1.0118 0.72)" font-size="17.6" font-weight="400" fill="#fff" stroke="#fff" stroke-width="0.3">0</text>
<text transform="translate(396.63 764.00) scale(1.0118 0.72)" font-size="17.6" font-weight="400" fill="#fff" stroke="#fff" stroke-width="0.3">1</text>
<text transform="translate(406.54 764.00) scale(1.0118 1.0)" font-size="17.6" font-weight="400" fill="#fff" stroke="#fff" stroke-width="0.3">8</text>
<text x="571.1" y="633.9" font-size="17.6" font-weight="700" fill="#fff" textLength="98.7" lengthAdjust="spacingAndGlyphs">PP Wilayah</text>
<text x="571.1" y="656.9" font-size="17.6" font-weight="700" fill="#fff" textLength="128.3" lengthAdjust="spacingAndGlyphs">Pertambangan</text>
<text x="571.12" y="703.0" font-size="17.6" font-weight="400" fill="#fff" textLength="56.00" lengthAdjust="spacingAndGlyphs" stroke="#fff" stroke-width="0.3">PP No.</text>
<text transform="translate(632.38 703.05) scale(1.0101 0.72)" font-size="17.6" font-weight="400" fill="#fff" stroke="#fff" stroke-width="0.3">2</text>
<text transform="translate(642.27 703.05) scale(1.0101 0.72)" font-size="17.6" font-weight="400" fill="#fff" stroke="#fff" stroke-width="0.3">2</text>
<text x="652.15" y="703.0" font-size="17.6" font-weight="400" fill="#fff" textLength="4.94" lengthAdjust="spacingAndGlyphs" stroke="#fff" stroke-width="0.3">/</text>
<text transform="translate(657.09 703.05) scale(1.0101 0.72)" font-size="17.6" font-weight="400" fill="#fff" stroke="#fff" stroke-width="0.3">2</text>
<text transform="translate(666.98 703.05) scale(1.0101 0.72)" font-size="17.6" font-weight="400" fill="#fff" stroke="#fff" stroke-width="0.3">0</text>
<text transform="translate(676.87 703.05) scale(1.0101 0.72)" font-size="17.6" font-weight="400" fill="#fff" stroke="#fff" stroke-width="0.3">1</text>
<text transform="translate(686.75 703.05) scale(1.0101 0.72)" font-size="17.6" font-weight="400" fill="#fff" stroke="#fff" stroke-width="0.3">0</text>
<text x="825.4" y="623.4" font-size="17.6" font-weight="700" fill="#fff" textLength="116.7" lengthAdjust="spacingAndGlyphs">PP Reklamasi</text>
<text x="825.4" y="646.4" font-size="17.6" font-weight="700" fill="#fff" textLength="86.4" lengthAdjust="spacingAndGlyphs">dan Pasca</text>
<text x="825.4" y="669.5" font-size="17.6" font-weight="700" fill="#fff" textLength="82.7" lengthAdjust="spacingAndGlyphs">Tambang</text>
<text x="825.42" y="715.6" font-size="17.6" font-weight="400" fill="#fff" textLength="56.58" lengthAdjust="spacingAndGlyphs" stroke="#fff" stroke-width="0.3">PP No.</text>
<text transform="translate(887.32 717.98) scale(1.0206 0.96)" font-size="17.6" font-weight="400" fill="#fff" stroke="#fff" stroke-width="0.3">7</text>
<text transform="translate(897.31 715.60) scale(1.0206 1.0)" font-size="17.6" font-weight="400" fill="#fff" stroke="#fff" stroke-width="0.3">8</text>
<text x="907.29" y="715.6" font-size="17.6" font-weight="400" fill="#fff" textLength="4.99" lengthAdjust="spacingAndGlyphs" stroke="#fff" stroke-width="0.3">/</text>
<text transform="translate(912.29 715.60) scale(1.0206 0.72)" font-size="17.6" font-weight="400" fill="#fff" stroke="#fff" stroke-width="0.3">2</text>
<text transform="translate(922.27 715.60) scale(1.0206 0.72)" font-size="17.6" font-weight="400" fill="#fff" stroke="#fff" stroke-width="0.3">0</text>
<text transform="translate(932.26 715.60) scale(1.0206 0.72)" font-size="17.6" font-weight="400" fill="#fff" stroke="#fff" stroke-width="0.3">1</text>
<text transform="translate(942.25 715.60) scale(1.0206 0.72)" font-size="17.6" font-weight="400" fill="#fff" stroke="#fff" stroke-width="0.3">0</text>
<text x="387.8" y="861.7" font-size="22.5" font-weight="700" fill="#fff" textLength="131.0" lengthAdjust="spacingAndGlyphs">UU Minerba</text>
<text x="388.76" y="886.7" font-size="18.8" font-weight="400" fill="#fff" textLength="127.35" lengthAdjust="spacingAndGlyphs" stroke="#fff" stroke-width="0.3">Dasar: UU No.</text>
<text transform="translate(521.55 889.24) scale(1.0419 0.96)" font-size="18.8" font-weight="400" fill="#fff" stroke="#fff" stroke-width="0.3">4</text>
<text x="532.44" y="886.7" font-size="18.8" font-weight="400" fill="#fff" textLength="5.44" lengthAdjust="spacingAndGlyphs" stroke="#fff" stroke-width="0.3">/</text>
<text transform="translate(537.89 886.70) scale(1.0419 0.72)" font-size="18.8" font-weight="400" fill="#fff" stroke="#fff" stroke-width="0.3">2</text>
<text transform="translate(548.78 886.70) scale(1.0419 0.72)" font-size="18.8" font-weight="400" fill="#fff" stroke="#fff" stroke-width="0.3">0</text>
<text transform="translate(559.67 886.70) scale(1.0419 0.72)" font-size="18.8" font-weight="400" fill="#fff" stroke="#fff" stroke-width="0.3">0</text>
<text transform="translate(570.57 889.24) scale(1.0419 0.96)" font-size="18.8" font-weight="400" fill="#fff" stroke="#fff" stroke-width="0.3">9</text>
<text x="388.76" y="911.8" font-size="18.8" font-weight="400" fill="#fff" textLength="170.37" lengthAdjust="spacingAndGlyphs" stroke="#fff" stroke-width="0.3">Perubahan: UU No.</text>
<text transform="translate(564.55 914.34) scale(1.0385 0.96)" font-size="18.8" font-weight="400" fill="#fff" stroke="#fff" stroke-width="0.3">3</text>
<text x="575.41" y="911.8" font-size="18.8" font-weight="400" fill="#fff" textLength="5.42" lengthAdjust="spacingAndGlyphs" stroke="#fff" stroke-width="0.3">/</text>
<text transform="translate(580.83 911.80) scale(1.0385 0.72)" font-size="18.8" font-weight="400" fill="#fff" stroke="#fff" stroke-width="0.3">2</text>
<text transform="translate(591.69 911.80) scale(1.0385 0.72)" font-size="18.8" font-weight="400" fill="#fff" stroke="#fff" stroke-width="0.3">0</text>
<text transform="translate(602.54 911.80) scale(1.0385 0.72)" font-size="18.8" font-weight="400" fill="#fff" stroke="#fff" stroke-width="0.3">2</text>
<text transform="translate(613.40 911.80) scale(1.0385 0.72)" font-size="18.8" font-weight="400" fill="#fff" stroke="#fff" stroke-width="0.3">0</text>
<text x="427.4" y="1015.8" font-size="42.5" font-weight="700" fill="#fff" textLength="96.9" lengthAdjust="spacingAndGlyphs">UUD</text>
<text transform="translate(533.89 1015.80) scale(1.0321 0.8)" font-size="42.5" font-weight="700" fill="#fff">1</text>
<text transform="translate(558.28 1020.47) scale(1.0321 0.96)" font-size="42.5" font-weight="700" fill="#fff">9</text>
<text transform="translate(582.67 1020.47) scale(1.0321 0.96)" font-size="42.5" font-weight="700" fill="#fff">4</text>
<text transform="translate(607.07 1020.47) scale(1.0321 0.96)" font-size="42.5" font-weight="700" fill="#fff">5</text></g>
<g id="footer">
<rect x="2.1" y="1404.4" width="1033.6" height="60.7" fill="#68524c" stroke="#231c1e" stroke-width="1.4"/>
<g fill="none" stroke="#fff">
<circle cx="40.8" cy="1435.2" r="17" stroke-width="3"/>
<ellipse cx="40.8" cy="1435.2" rx="6.3" ry="17" stroke-width="2.6"/>
<line x1="24" y1="1434.8" x2="57.6" y2="1434.8" stroke-width="2.9"/>
</g>
<rect x="182.2" y="1427.6" width="2" height="15.2" fill="#fff"/>
<g fill="none" stroke="#fff">
<rect x="207.4" y="1420.4" width="32.2" height="32.5" rx="7.6" stroke-width="3"/>
<circle cx="223.4" cy="1436.7" r="7.7" stroke-width="2.9"/>
</g>
<circle cx="232.8" cy="1427.1" r="2" fill="#fff"/>
<g filter="url(#gray)"><text x="69.4" y="1442.3" font-size="19.2" font-weight="400" fill="#fff" stroke="#fff" stroke-width="0.3" textLength="96.2" lengthAdjust="spacingAndGlyphs">esdm.go.id</text>
<text x="252.5" y="1442.3" font-size="19.2" font-weight="400" fill="#fff" stroke="#fff" stroke-width="0.3" textLength="78.0" lengthAdjust="spacingAndGlyphs">@kesdm</text>
<text x="612.6" y="1445.4" font-size="20" font-weight="400" fill="#fff" stroke="#fff" stroke-width="0.3" textLength="416.0" lengthAdjust="spacingAndGlyphs">Kementerian Energi dan Sumber Daya Mineral</text></g>
</g>
<rect x="0" y="0" width="1038" height="1" fill="#303048" fill-opacity="0.08"/>
<rect x="0" y="0" width="1.6" height="1468" fill="#303048" fill-opacity="0.08"/>
<rect x="1036.2" y="0" width="1.8" height="1468" fill="#303048" fill-opacity="0.08"/>
<rect x="0" y="1466" width="1038" height="2" fill="#ddd6d8"/></g></svg>
</body></html>
